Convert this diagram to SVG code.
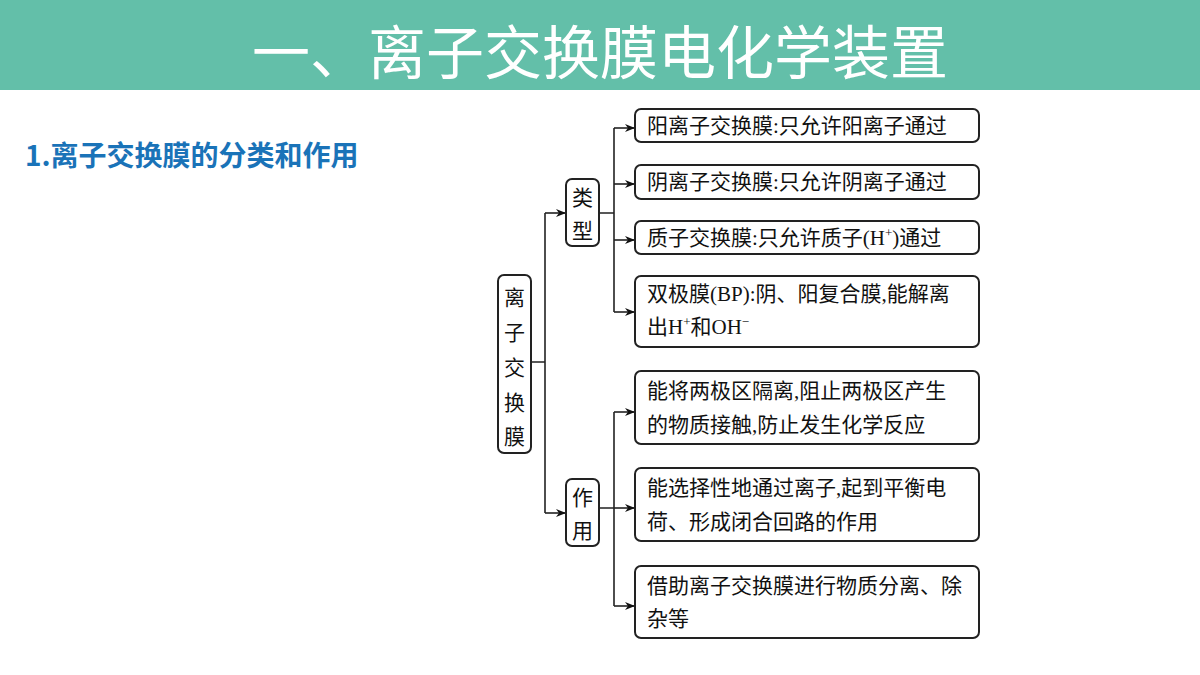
<svg xmlns="http://www.w3.org/2000/svg" width="1200" height="675" viewBox="0 0 1200 675">
<defs>
<marker id="ar" markerWidth="10" markerHeight="8" refX="9" refY="4" orient="auto" markerUnits="userSpaceOnUse"><path d="M0,0 L10,4 L0,8 L3,4 Z" fill="#111"/></marker>
<style>
.b{fill:#fff;stroke:#222;stroke-width:2}
.t{font-family:"Liberation Serif","Noto Sans CJK SC",serif;font-size:21px;fill:#111}
.c{fill:none;stroke:#222;stroke-width:1.6}
</style>
</defs>
<rect width="1200" height="675" fill="#fff"/>
<rect width="1200" height="90" fill="#63bfa9"/>
<text x="600" y="74" text-anchor="middle" font-family="'Noto Sans CJK SC',sans-serif" font-size="58" fill="#fff">一、离子交换膜电化学装置</text>
<text x="25" y="166" font-family="'Noto Sans CJK SC',sans-serif" font-size="28" font-weight="bold" fill="#1a73b8">1.离子交换膜的分类和作用</text>
<g id="connectors">
<path class="c" d="M531,362 H545 M545,213 V513"/>
<path class="c" d="M545,213 H565" marker-end="url(#ar)"/>
<path class="c" d="M545,513 H565" marker-end="url(#ar)"/>
<path class="c" d="M599,213 H614 M614,128 V312"/>
<path class="c" d="M614,128 H634" marker-end="url(#ar)"/>
<path class="c" d="M614,184 H634" marker-end="url(#ar)"/>
<path class="c" d="M614,240 H634" marker-end="url(#ar)"/>
<path class="c" d="M614,312 H634" marker-end="url(#ar)"/>
<path class="c" d="M599,508 H614 M614,412 V606"/>
<path class="c" d="M614,412 H634" marker-end="url(#ar)"/>
<path class="c" d="M614,508 H634" marker-end="url(#ar)"/>
<path class="c" d="M614,606 H634" marker-end="url(#ar)"/>
</g>
<g id="root"><rect class="b" x="498" y="275" width="33" height="178" rx="6"/>
<text class="t" x="514.5" text-anchor="middle"><tspan x="514.5" y="305">离</tspan><tspan x="514.5" y="340">子</tspan><tspan x="514.5" y="375">交</tspan><tspan x="514.5" y="410">换</tspan><tspan x="514.5" y="444">膜</tspan></text></g>
<g id="type"><rect class="b" x="566" y="179" width="33" height="67" rx="6"/>
<text class="t" text-anchor="middle"><tspan x="582.5" y="205">类</tspan><tspan x="582.5" y="238">型</tspan></text></g>
<g id="use"><rect class="b" x="566" y="479" width="33" height="67" rx="6"/>
<text class="t" text-anchor="middle"><tspan x="582.5" y="505">作</tspan><tspan x="582.5" y="538">用</tspan></text></g>
<g id="n1"><rect class="b" x="635" y="109" width="344" height="33" rx="6"/><text class="t" x="647" y="133">阳离子交换膜:只允许阳离子通过</text></g>
<g id="n2"><rect class="b" x="635" y="165" width="344" height="34" rx="6"/><text class="t" x="647" y="189">阴离子交换膜:只允许阴离子通过</text></g>
<g id="n3"><rect class="b" x="635" y="221" width="344" height="33" rx="6"/><text class="t" x="647" y="245">质子交换膜:只允许质子(H<tspan font-size="13" dy="-8">+</tspan><tspan dy="8">)通过</tspan></text></g>
<g id="n4"><rect class="b" x="635" y="276" width="344" height="71" rx="6"/><text class="t" x="647" y="301">双极膜(BP):阴、阳复合膜,能解离</text><text class="t" x="647" y="334">出H<tspan font-size="13" dy="-8">+</tspan><tspan dy="8">和OH</tspan><tspan font-size="13" dy="-8">−</tspan></text></g>
<g id="n5"><rect class="b" x="635" y="371" width="344" height="73" rx="6"/><text class="t" x="647" y="398">能将两极区隔离,阻止两极区产生</text><text class="t" x="647" y="432">的物质接触,防止发生化学反应</text></g>
<g id="n6"><rect class="b" x="635" y="468" width="344" height="73" rx="6"/><text class="t" x="647" y="495">能选择性地通过离子,起到平衡电</text><text class="t" x="647" y="529">荷、形成闭合回路的作用</text></g>
<g id="n7"><rect class="b" x="635" y="566" width="344" height="72" rx="6"/><text class="t" x="647" y="593">借助离子交换膜进行物质分离、除</text><text class="t" x="647" y="626">杂等</text></g>
</svg>
